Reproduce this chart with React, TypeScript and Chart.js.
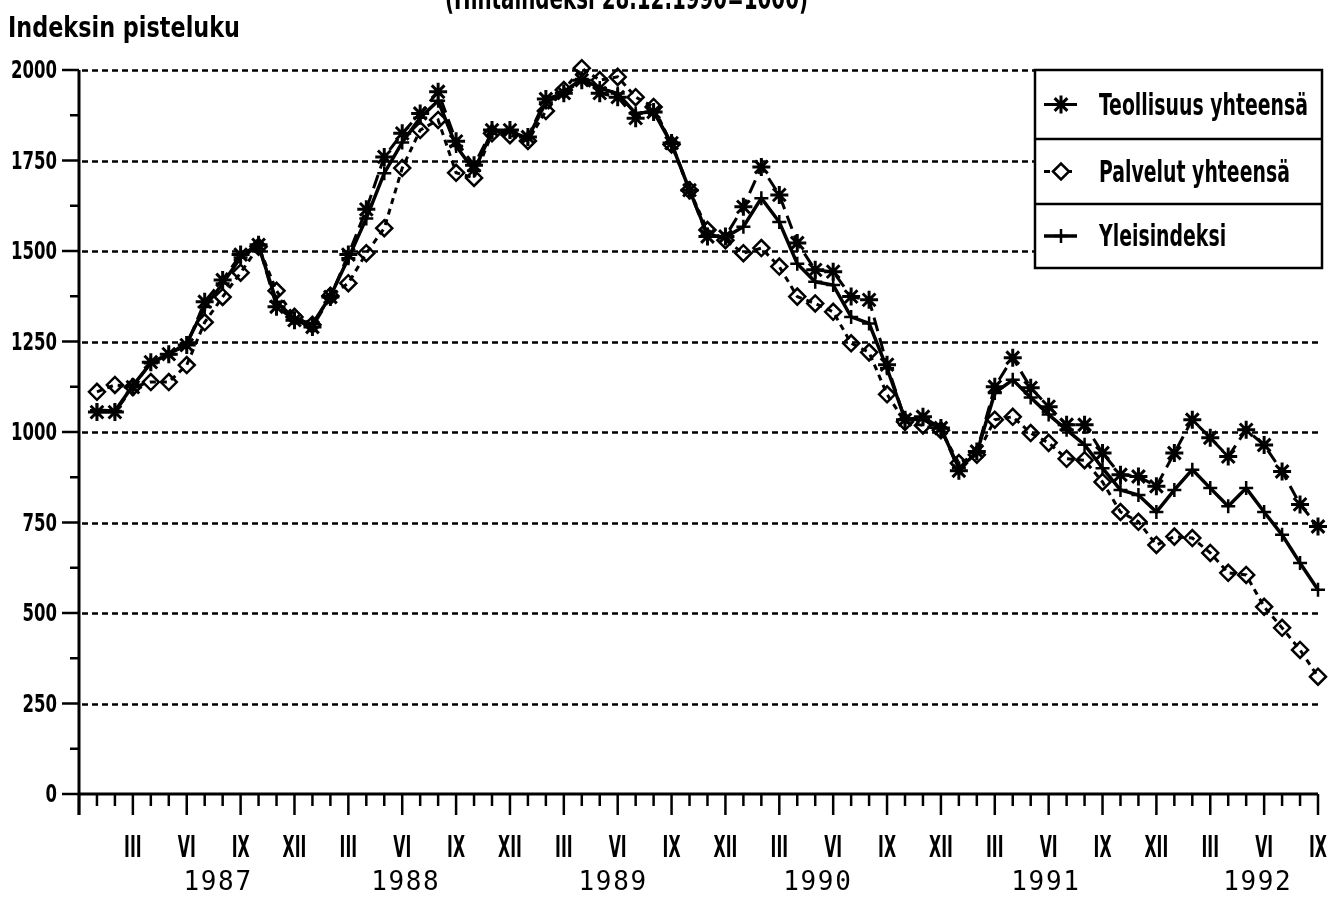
import React, { useEffect, useRef } from 'react';
import { Chart, registerables } from 'chart.js';
import { drawPoint } from 'chart.js/helpers';

Chart.register(...registerables);

// ---- texts ----
const titleText = '(Hintaindeksi 28.12.1990=1000)';
const yAxisTitle = 'Indeksin pisteluku';
const seriesLabels = ['Teollisuus yhteensä', 'Palvelut yhteensä', 'Yleisindeksi'];

// ---- data: monthly, Jan 1987 .. Sep 1992 ----
const teollisuus = [
  1055, 1055, 1124, 1193, 1215, 1240, 1360, 1420, 1490, 1517, 1346, 1309,
  1290, 1373, 1490, 1615, 1760, 1825, 1880, 1940, 1803, 1737, 1834, 1834,
  1815, 1920, 1936, 1972, 1936, 1925, 1867, 1884, 1798, 1668, 1540, 1540,
  1622, 1732, 1655, 1522, 1448, 1443, 1374, 1365, 1186, 1034, 1042, 1011,
  893, 946, 1125, 1205, 1122, 1070, 1020, 1020, 942, 882, 877, 850,
  942, 1034, 984, 932, 1006, 964, 891, 800, 739,
];
const palvelut = [
  1111, 1130, 1124, 1138, 1138, 1185, 1303, 1373, 1440, 1512, 1390, 1318,
  1296, 1376, 1411, 1494, 1563, 1729, 1834, 1862, 1716, 1702, 1825, 1820,
  1804, 1887, 1945, 2005, 1972, 1981, 1925, 1898, 1794, 1668, 1558, 1530,
  1494, 1508, 1457, 1374, 1355, 1332, 1245, 1220, 1104, 1028, 1018, 1005,
  914, 937, 1034, 1042, 997, 970, 926, 922, 862, 779, 752, 688,
  711, 707, 666, 611, 605, 517, 459, 398, 324,
];
const yleisindeksi = [
  1060, 1058, 1128, 1190, 1215, 1245, 1345, 1410, 1482, 1515, 1360, 1313,
  1298, 1375, 1480, 1590, 1715, 1800, 1868, 1915, 1790, 1722, 1830, 1830,
  1812, 1910, 1940, 1975, 1950, 1935, 1880, 1885, 1796, 1668, 1545, 1538,
  1567, 1646, 1580, 1465, 1415, 1406, 1318, 1300, 1176, 1035, 1035, 1010,
  900, 942, 1108, 1144, 1095, 1048, 1006, 965, 900, 840, 826, 779,
  840, 896, 845, 795, 845, 779, 716, 638, 564,
];

// ---- axes ----
const yTickValues = [0, 250, 500, 750, 1000, 1250, 1500, 1750, 2000];
const yMinorTickValues = [125, 375, 625, 875, 1125, 1375, 1625, 1875];
const xMin = -1; // December 1986 (axis origin)
const xMax = 68; // September 1992
const quarterLabels: Record<number, string> = { 2: 'III', 5: 'VI', 8: 'IX', 11: 'XII' };
const yearLabels = ['1987', '1988', '1989', '1990', '1991', '1992'];
const yearLabelMonth = [6.7, 17.15, 28.7, 40.1, 52.8, 64.6];

const NARROW = "'Liberation Sans Narrow', 'DejaVu Sans Condensed', 'Liberation Sans', sans-serif";
const MONO = "'DejaVu Sans Mono', 'Liberation Mono', monospace";

const toPoints = (arr: number[]) => arr.map((v, i) => ({ x: i, y: v }));

function measure(ctx: CanvasRenderingContext2D, text: string, font: string) {
  ctx.save();
  ctx.font = font;
  const w = ctx.measureText(text).width;
  ctx.restore();
  return w;
}

function drawScaled(
  ctx: CanvasRenderingContext2D,
  text: string,
  x: number,
  y: number,
  font: string,
  sx: number,
  align: 'left' | 'center' | 'right',
) {
  ctx.save();
  ctx.font = font;
  ctx.textAlign = 'left';
  ctx.textBaseline = 'alphabetic';
  ctx.fillStyle = '#000';
  const w = ctx.measureText(text).width * sx;
  let x0 = x;
  if (align === 'center') x0 = x - w / 2;
  else if (align === 'right') x0 = x - w;
  ctx.translate(x0, y);
  ctx.scale(sx, 1);
  ctx.fillText(text, 0, 0);
  ctx.restore();
}

const axesPlugin = {
  id: 'plotterAxes',
  beforeDatasetsDraw(chart: any) {
    const ctx: CanvasRenderingContext2D = chart.ctx;
    const xs = chart.scales.x;
    const ys = chart.scales.y;
    const left = xs.getPixelForValue(xMin);
    const right = xs.getPixelForValue(xMax);
    const y0 = ys.getPixelForValue(0);
    const yTop = ys.getPixelForValue(2000);

    ctx.save();
    ctx.strokeStyle = '#000';
    ctx.lineCap = 'butt';

    // dashed grid lines
    ctx.lineWidth = 2.5;
    ctx.setLineDash([6, 4]);
    yTickValues.forEach((v) => {
      if (v === 0) return;
      const py = Math.round(ys.getPixelForValue(v)) + 0.5;
      ctx.beginPath();
      ctx.moveTo(left + 3, py);
      ctx.lineTo(right, py);
      ctx.stroke();
    });
    ctx.setLineDash([]);

    // x ticks
    ctx.lineWidth = 2.5;
    for (let i = xMin; i <= xMax; i++) {
      const m = ((i % 12) + 12) % 12;
      const long = m % 3 === 2;
      const px = xs.getPixelForValue(i);
      ctx.beginPath();
      ctx.moveTo(px, y0);
      ctx.lineTo(px, y0 + (long ? 21 : 12));
      ctx.stroke();
    }

    // y ticks
    yTickValues.forEach((v) => {
      const py = ys.getPixelForValue(v);
      ctx.beginPath();
      ctx.moveTo(left, py);
      ctx.lineTo(left - 17, py);
      ctx.stroke();
    });
    yMinorTickValues.forEach((v) => {
      const py = ys.getPixelForValue(v);
      ctx.beginPath();
      ctx.moveTo(left, py);
      ctx.lineTo(left - 9, py);
      ctx.stroke();
    });

    // axis lines
    ctx.lineWidth = 3;
    ctx.beginPath();
    ctx.moveTo(left, yTop);
    ctx.lineTo(left, y0 + 21);
    ctx.stroke();
    ctx.beginPath();
    ctx.moveTo(left, y0);
    ctx.lineTo(right, y0);
    ctx.stroke();
    ctx.restore();

    // y tick labels
    const yFont = `bold 25px ${NARROW}`;
    const ySx = 46 / measure(ctx, '2000', yFont);
    yTickValues.forEach((v) => {
      drawScaled(ctx, String(v), 57, ys.getPixelForValue(v) + 8, yFont, ySx, 'right');
    });

    // quarter labels
    const rFont = `bold 30px ${NARROW}`;
    const rSx = 18 / measure(ctx, 'VI', rFont);
    for (let i = 0; i <= xMax; i++) {
      const m = i % 12;
      const lab = quarterLabels[m];
      if (!lab) continue;
      drawScaled(ctx, lab, xs.getPixelForValue(i), 857, rFont, rSx, 'center');
    }

    // year labels (spaced digits)
    ctx.save();
    ctx.font = `26px ${MONO}`;
    ctx.fillStyle = '#000';
    ctx.textAlign = 'center';
    ctx.textBaseline = 'alphabetic';
    yearLabels.forEach((yl, k) => {
      const cx = xs.getPixelForValue(yearLabelMonth[k]);
      for (let c = 0; c < yl.length; c++) {
        ctx.fillText(yl[c], cx + (c - (yl.length - 1) / 2) * 17.3, 890);
      }
    });
    ctx.restore();

    // axis title
    const tFont = `bold 29px ${NARROW}`;
    drawScaled(ctx, yAxisTitle, 8, 36.5, tFont, 232 / measure(ctx, yAxisTitle, tFont), 'left');

    // chart title (cut at top edge)
    const hFont = `bold 32px ${NARROW}`;
    drawScaled(ctx, titleText, 445, 9, hFont, 363 / measure(ctx, titleText, hFont), 'left');
  },
};

const legendPlugin = {
  id: 'boxLegend',
  afterDraw(chart: any) {
    const ctx: CanvasRenderingContext2D = chart.ctx;
    const bx = 1035, by = 70, bw = 287, bh = 198;
    const rows = [by, 139, 204, by + bh];
    ctx.save();
    ctx.fillStyle = '#fff';
    ctx.fillRect(bx, by, bw, bh);
    ctx.strokeStyle = '#000';
    ctx.lineWidth = 2.5;
    ctx.strokeRect(bx, by, bw, bh);
    ctx.beginPath();
    ctx.moveTo(bx, rows[1]);
    ctx.lineTo(bx + bw, rows[1]);
    ctx.moveTo(bx, rows[2]);
    ctx.lineTo(bx + bw, rows[2]);
    ctx.stroke();

    const lFont = `bold 30px ${NARROW}`;
    const lSx = 209 / measure(ctx, seriesLabels[0], lFont);
    chart.data.datasets.forEach((ds: any, k: number) => {
      const cy = (rows[k] + rows[k + 1]) / 2;
      ctx.save();
      ctx.strokeStyle = '#000';
      ctx.lineWidth = k === 2 ? 3.5 : 3;
      ctx.setLineDash(k === 1 ? [6, 5] : []);
      ctx.beginPath();
      ctx.moveTo(1044, cy);
      ctx.lineTo(1077, cy);
      ctx.stroke();
      ctx.setLineDash([]);
      ctx.fillStyle = k === 1 ? '#fff' : '#000';
      ctx.lineWidth = ds.pointBorderWidth;
      drawPoint(ctx, { pointStyle: ds.pointStyle, radius: ds.pointRadius, rotation: 0, borderWidth: ds.pointBorderWidth } as any, 1061, cy);
      ctx.restore();
      drawScaled(ctx, ds.label, 1099, cy + 10, lFont, lSx, 'left');
    });
    ctx.restore();
  },
};

export default function App() {
  const ref = useRef<HTMLCanvasElement>(null);
  useEffect(() => {
    if (!ref.current) return;
    const chart = new Chart(ref.current, {
      type: 'line',
      data: {
        datasets: [
          {
            label: seriesLabels[0],
            data: toPoints(teollisuus),
            borderColor: '#000',
            borderWidth: 3,
            borderDash: [14, 7],
            pointStyle: 'star',
            pointRadius: 9,
            pointBorderWidth: 3,
            pointBorderColor: '#000',
            pointBackgroundColor: '#000',
            tension: 0,
            clip: false as any,
          },
          {
            label: seriesLabels[1],
            data: toPoints(palvelut),
            borderColor: '#000',
            borderWidth: 3,
            borderDash: [6, 5],
            pointStyle: 'rectRot',
            pointRadius: 8,
            pointBorderWidth: 2.5,
            pointBorderColor: '#000',
            pointBackgroundColor: 'rgba(0,0,0,0)',
            tension: 0,
            clip: false as any,
          },
          {
            label: seriesLabels[2],
            data: toPoints(yleisindeksi),
            borderColor: '#000',
            borderWidth: 3.5,
            pointStyle: 'cross',
            pointRadius: 7,
            pointBorderWidth: 2.5,
            pointBorderColor: '#000',
            pointBackgroundColor: '#000',
            tension: 0,
            clip: false as any,
          },
        ],
      },
      options: {
        responsive: false,
        animation: false,
        layout: { padding: { left: 79, right: 21, top: 70, bottom: 109 } },
        plugins: {
          legend: { display: false },
          tooltip: { enabled: false },
          title: { display: false },
        },
        scales: {
          x: { type: 'linear', min: xMin, max: xMax, display: false },
          y: { type: 'linear', min: 0, max: 2000, display: false },
        },
      },
      plugins: [axesPlugin, legendPlugin],
    });
    return () => chart.destroy();
  }, []);
  return (
    <canvas
      ref={ref}
      width={1339}
      height={903}
      style={{ position: 'absolute', left: 0, top: 0, width: 1339, height: 903, background: '#fff' }}
    />
  );
}
